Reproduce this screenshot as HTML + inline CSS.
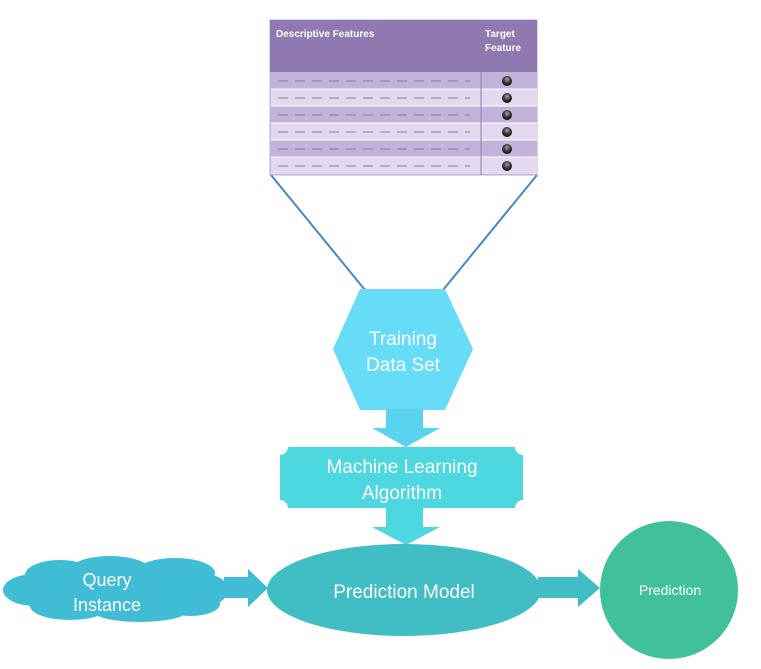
<!DOCTYPE html>
<html><head><meta charset="utf-8"><style>
html,body{margin:0;padding:0;background:#fff;}
svg{display:block;font-family:"Liberation Sans",sans-serif;}
</style></head><body>
<svg width="761" height="669" viewBox="0 0 761 669">
<defs>
<radialGradient id="dot" cx="50%" cy="35%" r="60%"><stop offset="0" stop-color="#aaa"/><stop offset="0.5" stop-color="#444"/><stop offset="1" stop-color="#111"/></radialGradient>
</defs>
<!-- lines from table -->
<line x1="271" y1="175" x2="365" y2="290" stroke="#4a86c0" stroke-width="2"/>
<line x1="537" y1="175" x2="443" y2="290" stroke="#4a86c0" stroke-width="2"/>
<!-- table -->
<rect x="270" y="20" width="267" height="155" fill="#d6c9e6" stroke="#b8a8d0"/>
<rect x="270" y="20" width="267" height="52" fill="#8f79b0"/>
<text x="276" y="37" font-size="10" font-weight="bold" fill="#fff">Descriptive Features</text>
<text x="485" y="37" font-size="10" font-weight="bold" fill="#fff">Target</text>
<text x="485" y="51" font-size="10" font-weight="bold" fill="#fff">Feature</text>
<g>
<rect x="271" y="72" width="266" height="17" fill="#c2b2da"/>
<rect x="271" y="89" width="266" height="17" fill="#e2d9ef"/>
<rect x="271" y="106" width="266" height="17" fill="#c2b2da"/>
<rect x="271" y="123" width="266" height="17" fill="#e2d9ef"/>
<rect x="271" y="140" width="266" height="17" fill="#c2b2da"/>
<rect x="271" y="157" width="266" height="17" fill="#e2d9ef"/>
<g stroke="#fff" stroke-width="1"><line x1="271" y1="89" x2="537" y2="89"/><line x1="271" y1="106" x2="537" y2="106"/><line x1="271" y1="123" x2="537" y2="123"/><line x1="271" y1="140" x2="537" y2="140"/><line x1="271" y1="157" x2="537" y2="157"/></g>
<line x1="481" y1="72" x2="481" y2="175" stroke="#8f79b0"/>
<g stroke="#8a7a9a" stroke-width="1" stroke-dasharray="10 7">
<line x1="278" y1="81" x2="470" y2="81"/><line x1="278" y1="98" x2="470" y2="98"/><line x1="278" y1="115" x2="470" y2="115"/><line x1="278" y1="132" x2="470" y2="132"/><line x1="278" y1="149" x2="470" y2="149"/><line x1="278" y1="166" x2="470" y2="166"/>
</g>
<g fill="url(#dot)"><circle cx="507" cy="81" r="5"/><circle cx="507" cy="98" r="5"/><circle cx="507" cy="115" r="5"/><circle cx="507" cy="132" r="5"/><circle cx="507" cy="149" r="5"/><circle cx="507" cy="166" r="5"/></g>
</g>
<!-- hexagon -->
<polygon points="360,289 445,289 473,349 445,410 360,410 333,349" fill="#67dcf7"/>
<text x="403" y="345" font-size="19" fill="#fff" text-anchor="middle">Training</text>
<text x="403" y="371" font-size="19" fill="#fff" text-anchor="middle">Data Set</text>
<!-- arrow 1 -->
<polygon points="386,409 423,409 423,428 440,428 406,447 372,428 386,428" fill="#5ad3ee"/>
<!-- ML plaque -->
<path d="M288,447 H515 A8,8 0 0 0 523,455 V500 A8,8 0 0 0 515,508 H288 A8,8 0 0 0 280,500 V455 A8,8 0 0 0 288,447 Z" fill="#4dd7de"/>
<text x="402" y="473" font-size="19" fill="#fff" text-anchor="middle">Machine Learning</text>
<text x="402" y="499" font-size="19" fill="#fff" text-anchor="middle">Algorithm</text>
<!-- arrow 2 -->
<polygon points="386,507 423,507 423,527 440,527 406,545 372,527 386,527" fill="#4dd7de"/>
<!-- ellipse -->
<ellipse cx="404" cy="590" rx="137" ry="46" fill="#40bec4"/>
<text x="404" y="598" font-size="19" fill="#fff" text-anchor="middle">Prediction Model</text>
<!-- cloud -->
<g fill="#40bdd4">
<ellipse cx="115" cy="590" rx="108" ry="26"/>
<ellipse cx="35" cy="590" rx="32" ry="16"/>
<ellipse cx="60" cy="575" rx="35" ry="15"/>
<ellipse cx="110" cy="570" rx="40" ry="14"/>
<ellipse cx="175" cy="573" rx="40" ry="15"/>
<ellipse cx="205" cy="590" rx="23" ry="16"/>
<ellipse cx="70" cy="606" rx="40" ry="14"/>
<ellipse cx="140" cy="609" rx="50" ry="13"/>
<ellipse cx="190" cy="604" rx="30" ry="12"/>
</g>
<text x="107" y="586" font-size="18" fill="#fff" text-anchor="middle">Query</text>
<text x="107" y="611" font-size="18" fill="#fff" text-anchor="middle">Instance</text>
<!-- arrow 3 -->
<polygon points="224,577 248,577 248,569 268,588 248,607 248,598 224,598" fill="#40bdd4"/>
<!-- arrow 4 -->
<polygon points="538,577 578,577 578,569 600,588 578,607 578,598 538,598" fill="#40bec4"/>
<!-- circle -->
<circle cx="669" cy="590" r="69" fill="#40c19c"/>
<text x="670" y="595" font-size="14" fill="#fff" text-anchor="middle">Prediction</text>
</svg>
</body></html>
